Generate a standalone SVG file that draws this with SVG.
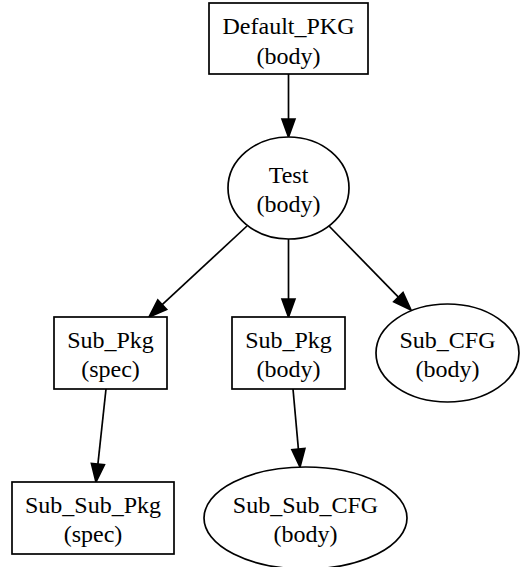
<svg xmlns="http://www.w3.org/2000/svg" width="520" height="567" viewBox="0 0 520 567">
  <style>
    .shape { fill: #ffffff; stroke: #000000; stroke-width: 1.7; }
    .label { font-family: "Liberation Serif", "Times New Roman", serif; font-size: 24px; fill: #000000; text-anchor: middle; }
    .edge { stroke: #000000; stroke-width: 1.7; fill: none; marker-end: url(#arrow); }
  </style>
  <defs>
    <marker id="arrow" markerUnits="userSpaceOnUse" markerWidth="20" markerHeight="16" refX="0" refY="0" viewBox="0 -8 20 16" orient="auto" overflow="visible">
      <path d="M0,-6.5 L18,0 L0,6.5 Z" fill="#000000" stroke="#000000" stroke-width="1.7"/>
    </marker>
  </defs>
  <rect width="520" height="567" fill="#ffffff"/>

  <g id="edges">
    <line class="edge" x1="288.5" y1="74" x2="288.5" y2="119"/>
    <line class="edge" x1="247" y1="226" x2="162.2" y2="304.7"/>
    <line class="edge" x1="288.5" y1="239" x2="288.5" y2="299"/>
    <line class="edge" x1="329" y1="226" x2="398.4" y2="297.1"/>
    <line class="edge" x1="106" y1="389" x2="97.9" y2="464.1"/>
    <line class="edge" x1="293" y1="389" x2="298.4" y2="449.1"/>
  </g>

  <g id="default_pkg_body">
    <rect class="shape" x="209" y="3" width="159" height="71"/>
    <text class="label" x="288.5" y="33.5">Default_PKG</text>
    <text class="label" x="288.5" y="63.5">(body)</text>
  </g>

  <g id="test_body">
    <ellipse class="shape" cx="288.5" cy="188" rx="60.5" ry="51"/>
    <text class="label" x="288.5" y="183">Test</text>
    <text class="label" x="288.5" y="212">(body)</text>
  </g>

  <g id="sub_pkg_spec">
    <rect class="shape" x="54" y="317" width="113" height="72"/>
    <text class="label" x="110.5" y="348">Sub_Pkg</text>
    <text class="label" x="110.5" y="377">(spec)</text>
  </g>

  <g id="sub_pkg_body">
    <rect class="shape" x="232" y="317" width="113" height="72"/>
    <text class="label" x="288.5" y="348">Sub_Pkg</text>
    <text class="label" x="288.5" y="377">(body)</text>
  </g>

  <g id="sub_cfg_body">
    <ellipse class="shape" cx="447.5" cy="353" rx="71.5" ry="49"/>
    <text class="label" x="447.5" y="348">Sub_CFG</text>
    <text class="label" x="447.5" y="377">(body)</text>
  </g>

  <g id="sub_sub_pkg_spec">
    <rect class="shape" x="12" y="482" width="162" height="72"/>
    <text class="label" x="93" y="513">Sub_Sub_Pkg</text>
    <text class="label" x="93" y="542">(spec)</text>
  </g>

  <g id="sub_sub_cfg_body">
    <ellipse class="shape" cx="305.5" cy="518" rx="101.5" ry="51"/>
    <text class="label" x="305.5" y="513">Sub_Sub_CFG</text>
    <text class="label" x="305.5" y="542">(body)</text>
  </g>
</svg>
